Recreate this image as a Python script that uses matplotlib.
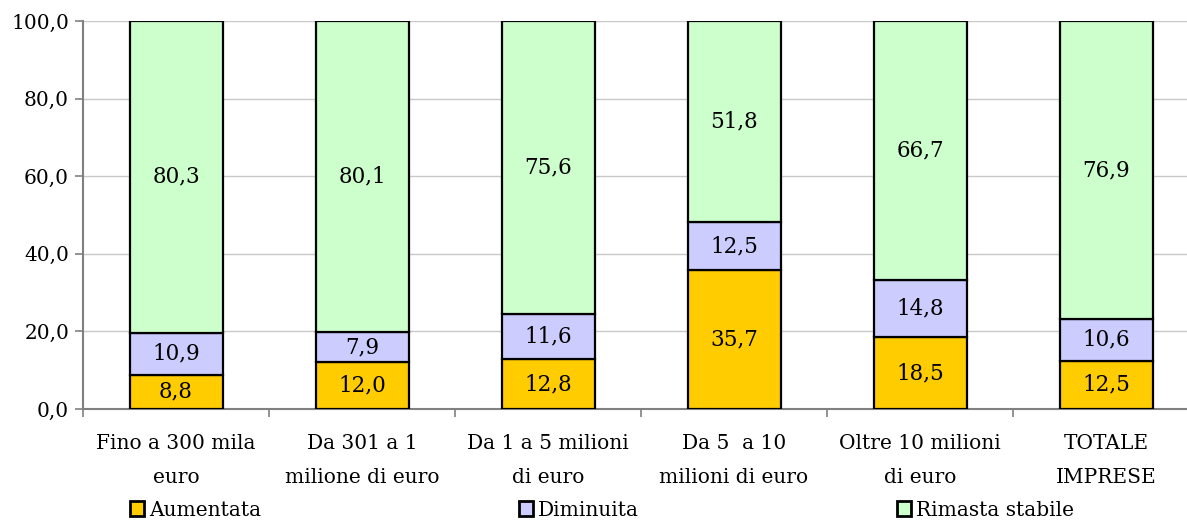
import matplotlib
matplotlib.use("Agg")
import matplotlib.pyplot as plt
import numpy as np

categories = ["Fino a 300 mila\neuro", "Da 301 a 1\nmilione di euro", "Da 1 a 5 milioni\ndi euro",
              "Da 5  a 10\nmilioni di euro", "Oltre 10 milioni\ndi euro", "TOTALE\nIMPRESE"]
aumentata = [8.8, 12.0, 12.8, 35.7, 18.5, 12.5]
diminuita = [10.9, 7.9, 11.6, 12.5, 14.8, 10.6]
stabile = [80.3, 80.1, 75.6, 51.8, 66.7, 76.9]
series_names = ["Aumentata", "Diminuita", "Rimasta stabile"]
colors = ["#FFCC00", "#CCCCFF", "#CCFFCC"]
yticks = [0, 20, 40, 60, 80, 100]

plt.rcParams['font.family'] = ['DejaVu Serif']
FS = 14.5
FS_LABEL = 15.5

fig = plt.figure(figsize=(11.87, 5.20), dpi=100)
ax = fig.add_axes([83/1187, 1-409/520, 1116/1187, 388/520])

x = np.arange(len(categories))
bottom = np.zeros(len(categories))
for vals, name, c in zip([aumentata, diminuita, stabile], series_names, colors):
    vals = np.array(vals)
    ax.bar(x, vals, width=0.5, bottom=bottom, color=c, edgecolor="black",
           linewidth=1.6, label=name, zorder=3)
    for xi, b, v in zip(x, bottom, vals):
        ax.text(xi, b + v/2, f"{v:.1f}".replace(".", ","), ha="center", va="center",
                fontsize=FS_LABEL, zorder=4)
    bottom += vals

ax.set_xlim(-0.5, len(categories)-0.5)
ax.set_ylim(0, 100)
ax.set_yticks(yticks)
ax.set_yticklabels([f"{v:.1f}".replace(".", ",") for v in yticks], fontsize=FS)
ax.yaxis.grid(True, color="#c8c8c8", linewidth=1.0, zorder=0)
ax.set_axisbelow(True)

ax.set_xticks(x)
ax.set_xticklabels(categories, fontsize=FS, linespacing=2.0)
ax.set_xticks(np.arange(len(categories)+1) - 0.5, minor=True)
ax.tick_params(axis="x", which="major", length=0, pad=18)
ax.tick_params(axis="x", which="minor", length=6, color="#808080", width=1.2, direction="out")
ax.tick_params(axis="y", length=6, color="#808080", width=1.2, direction="out", pad=4)

for s in ["top", "right"]:
    ax.spines[s].set_visible(False)
for s in ["left", "bottom"]:
    ax.spines[s].set_color("#808080")
    ax.spines[s].set_linewidth(1.5)

handles, labels = ax.get_legend_handles_labels()
leg = fig.legend(handles, labels, loc="center left", bbox_to_anchor=(130/1187, 1-510/520),
                 ncol=3, frameon=False, fontsize=FS, handlelength=0.7, handleheight=0.7,
                 handletextpad=0.25, columnspacing=12.8, borderaxespad=0, borderpad=0)
for h in leg.legend_handles:
    h.set_linewidth(2.0)

fig.savefig("out.png", dpi=100)
